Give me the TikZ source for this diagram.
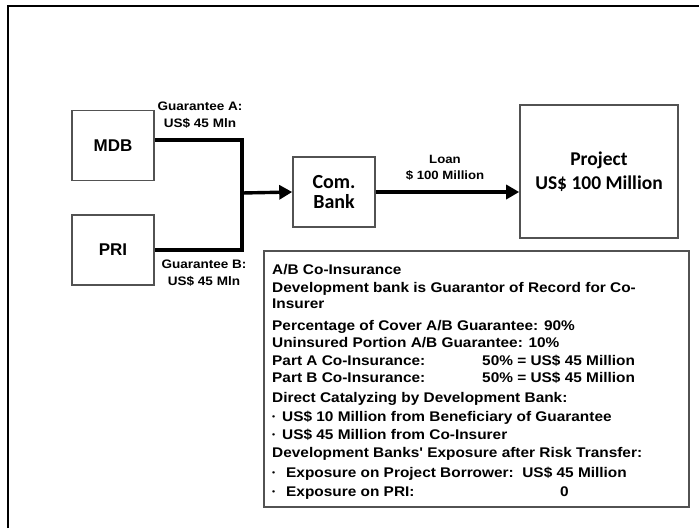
\documentclass[tikz,border=0pt]{standalone}
\usepackage{fontspec}
\setmainfont{Liberation Sans}
\newfontfamily\calib{Carlito}
\newfontfamily\wide[FakeStretch=1.1]{Liberation Sans}
\usetikzlibrary{arrows.meta}
\tikzset{
  box/.style={draw=black!68, line width=1.6pt, inner sep=0pt},
  conn/.style={line width=3.4pt, black, line join=miter},
  tip/.style={-{Triangle[length=13pt,width=14pt]}},
  lbl/.style={inner sep=0pt, align=center, font=\wide\bfseries\fontsize{12.3}{17}\selectfont},
  txt/.style={inner sep=0pt, anchor=base west, font=\wide\bfseries\fontsize{14}{17}\selectfont},
}
\begin{document}
\begin{tikzpicture}[x=1pt,y=1pt]
\useasboundingbox (0,0) rectangle (699,-528);
% outer frame
\draw[line width=2.3pt, black] (8,-528) -- (8,-6) -- (699,-6);
% boxes
\node[box, minimum width=82pt, minimum height=70pt, font=\bfseries\fontsize{17}{20}\selectfont] (mdb) at (113,-145.5) {MDB};
\node[box, minimum width=82pt, minimum height=70pt, font=\bfseries\fontsize{17}{20}\selectfont] (pri) at (113,-250) {PRI};
\node[box, minimum width=82pt, minimum height=70pt, align=center, font=\calib\bfseries\fontsize{20}{20}\selectfont] (bank) at (334,-192) {Com.\\Bank};
\node[box, minimum width=158pt, minimum height=133pt, align=center, font=\calib\bfseries\fontsize{19.5}{24}\selectfont] (proj) at (599,-171.5) {Project\\US\$ 100 Million};
\node[box, minimum width=425pt, minimum height=256pt] (info) at (476.5,-379) {};
% junction
\coordinate (j) at (242,-193);
\draw[conn] ([yshift=5.5pt]mdb.east) -| (j) |- (pri.east);
\draw[conn, tip] (j) -- (bank.west);
\draw[conn, tip] (bank.east) -- (bank.east -| proj.west);
% labels
\node[lbl] (ga) at (200,-115.5) {Guarantee A:\\US\$ 45 Mln};
\node[lbl] (gb) at (204,-273) {Guarantee B:\\US\$ 45 Mln};
\node[lbl, font=\wide\bfseries\fontsize{12}{16}\selectfont] (loan) at (445,-168) {Loan\\\$ 100 Million};
% info text
\node[txt] (t1) at (272,-274) {A/B Co-Insurance};
\node[txt] (t2) at (272,-292.7) {Development bank is Guarantor of Record for Co-};
\node[txt] (t3) at (272,-308.5) {Insurer};
\node[txt] (t4) at (272,-330.7) {Percentage of Cover A/B Guarantee: 90\%};
\node[txt] (t5) at (272,-347) {Uninsured Portion A/B Guarantee: 10\%};
\node[txt] (t6) at (272,-365.7) {\makebox[210pt][l]{Part A Co-Insurance:}50\% = US\$ 45 Million};
\node[txt] (t7) at (272,-382) {\makebox[210pt][l]{Part B Co-Insurance:}50\% = US\$ 45 Million};
\node[txt] (t8) at (272,-402.7) {Direct Catalyzing by Development Bank:};
\node[txt] (t9) at (272,-421) {\makebox[10pt][l]{\raisebox{2pt}{\fontsize{8}{8}\selectfont •}}US\$ 10 Million from Beneficiary of Guarantee};
\node[txt] (t10) at (272,-439) {\makebox[10pt][l]{\raisebox{2pt}{\fontsize{8}{8}\selectfont •}}US\$ 45 Million from Co-Insurer};
\node[txt] (t11) at (272,-457.7) {Development Banks' Exposure after Risk Transfer:};
\node[txt] (t12) at (272,-477) {\makebox[14pt][l]{\raisebox{2pt}{\fontsize{8}{8}\selectfont •}}Exposure on Project Borrower:\ \ US\$ 45 Million};
\node[txt] (t13) at (272,-496) {\makebox[14pt][l]{\raisebox{2pt}{\fontsize{8}{8}\selectfont •}}\makebox[274pt][l]{Exposure on PRI:}0};
\end{tikzpicture}
\end{document}
